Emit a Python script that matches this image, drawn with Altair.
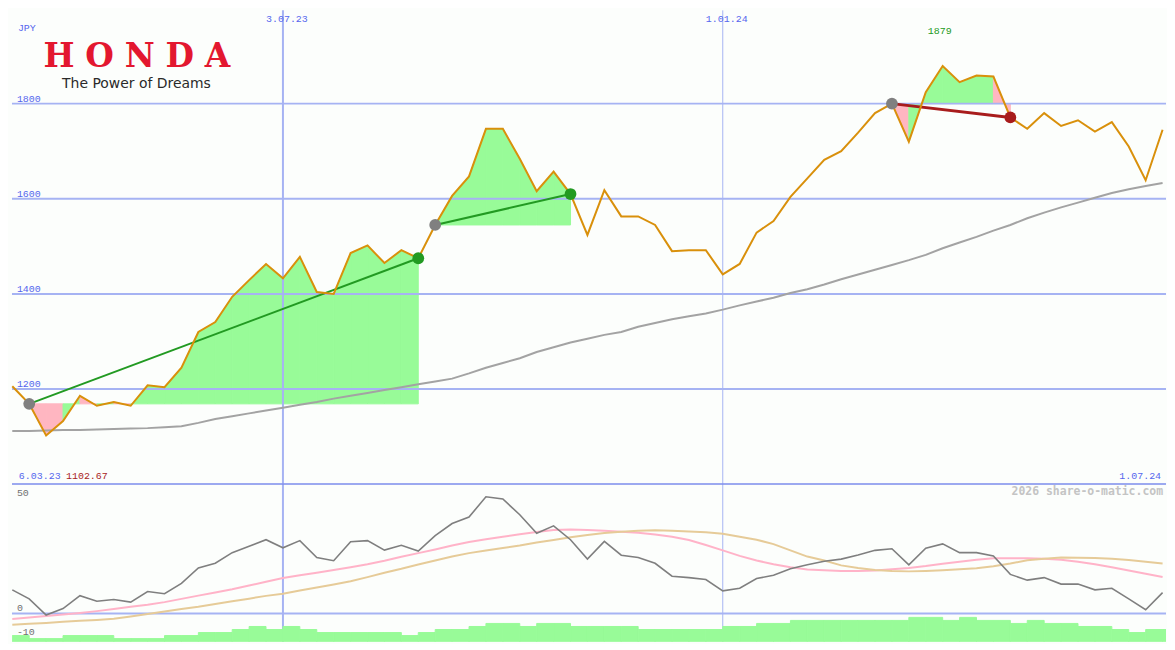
import altair as alt
import pandas as pd

# ---------------- data (weekly, weeks starting 13 Mar 2023) ----------------
dates = [d.strftime("%Y-%m-%d") for d in pd.date_range("2023-03-13", periods=69, freq="7D")]

price = [1206, 1169, 1102.67, 1133, 1186, 1165, 1173, 1165, 1208, 1204,
         1245, 1320, 1341, 1394, 1429, 1463, 1433, 1478, 1404, 1400,
         1486, 1502, 1465, 1492, 1475, 1545, 1606, 1647, 1747, 1747,
         1684, 1616, 1657, 1610, 1524, 1618, 1563, 1563, 1545, 1490,
         1492, 1492, 1441, 1463, 1529, 1553, 1604, 1643, 1682, 1700,
         1739, 1780, 1800, 1720, 1824, 1879, 1845, 1859, 1857, 1771,
         1747, 1780, 1753, 1765, 1741, 1761, 1710, 1639, 1745]

ma_slow = [1112, 1112, 1113, 1114, 1114, 1115, 1116, 1117, 1118, 1120,
           1122, 1129, 1137, 1143, 1149, 1155, 1161, 1167, 1173, 1180,
           1186, 1192, 1198, 1204, 1210, 1216, 1222, 1233, 1245, 1255,
           1265, 1278, 1288, 1298, 1306, 1314, 1320, 1331, 1339, 1347,
           1353, 1359, 1367, 1376, 1384, 1392, 1402, 1410, 1420, 1431,
           1441, 1451, 1461, 1471, 1482, 1496, 1508, 1520, 1533, 1545,
           1559, 1571, 1582, 1592, 1602, 1612, 1620, 1627, 1633]

momentum = [10.2, 6.3, -0.7, 2.1, 7.7, 5.3, 6.0, 4.9, 9.5, 8.5,
            13.0, 19.7, 21.7, 26.3, 29.1, 31.9, 28.4, 31.5, 24.2, 22.8,
            31.0, 31.5, 27.4, 29.5, 27.0, 33.7, 38.9, 41.7, 50.5, 49.5,
            42.7, 34.7, 37.9, 31.9, 23.5, 31.2, 25.2, 24.2, 21.7, 16.1,
            15.5, 14.7, 9.8, 10.9, 15.1, 16.5, 19.3, 21.1, 22.6, 23.5,
            25.3, 27.3, 28.0, 21.0, 28.2, 30.1, 26.3, 26.3, 24.9, 16.9,
            14.4, 15.5, 12.7, 12.7, 10.2, 10.9, 6.3, 1.6, 9.0]

momentum_fast = [-2.4, -1.8, -1.1, -0.5, 0.2, 1.0, 1.9, 2.9, 3.8, 4.9,
                 6.3, 7.7, 9.1, 10.5, 12.1, 13.7, 15.3, 16.5, 17.6, 18.8,
                 20.0, 21.3, 22.8, 24.5, 26.1, 27.7, 29.4, 30.9, 32.1, 33.2,
                 34.3, 35.2, 36.1, 36.3, 36.1, 35.8, 35.3, 34.9, 34.2, 33.2,
                 31.8, 29.6, 27.3, 24.9, 22.9, 21.3, 20.0, 19.0, 18.7, 18.4,
                 18.4, 18.6, 19.1, 19.7, 20.5, 21.5, 22.4, 23.2, 23.9, 23.9,
                 23.9, 23.7, 23.2, 22.4, 21.3, 20.0, 18.6, 17.2, 15.8]

momentum_slow = [-4.9, -4.5, -4.1, -3.6, -3.2, -2.8, -2.3, -1.3, -0.2, 0.8,
                 1.9, 2.9, 4.1, 5.3, 6.4, 7.6, 8.5, 9.9, 11.2, 12.5,
                 13.9, 15.7, 17.6, 19.3, 21.2, 22.9, 24.6, 26.1, 27.2, 28.3,
                 29.4, 30.7, 31.8, 33.0, 33.9, 34.8, 35.3, 35.8, 36.0, 35.8,
                 35.5, 35.1, 34.5, 33.2, 31.9, 30.0, 27.3, 24.6, 22.9, 20.8,
                 19.7, 18.8, 18.4, 18.2, 18.4, 18.7, 19.1, 19.6, 20.4, 21.6,
                 23.0, 23.7, 24.2, 24.1, 24.0, 23.7, 23.1, 22.4, 21.6]

volume = [20, 10, 10, 20, 20, 20, 10, 10, 10, 20,
          20, 30, 30, 40, 50, 40, 50, 40, 30, 30,
          30, 30, 30, 20, 30, 40, 40, 50, 60, 60,
          50, 60, 60, 50, 50, 50, 50, 40, 40, 40,
          40, 40, 50, 50, 60, 60, 70, 70, 70, 70,
          70, 70, 70, 80, 80, 70, 80, 70, 70, 60,
          70, 60, 60, 50, 50, 40, 30, 40, 40]

trade_entry = [1, 25, 52]   # week index of entry
trade_exit = [24, 33, 59]   # week index of exit

price_ticks = [1200, 1400, 1600, 1800]
osc_ticks = [50, 0, -10]
grid_dates = ["2023-07-03", "2024-01-01"]
grid_labels = ["3.07.23", "1.01.24"]

currency = "JPY"
first_label = "6.03.23"
last_label = "1.07.24"
low_label = "1102.67"
high_label = "1879"
watermark = "2026 share-o-matic.com"
brand = "HONDA"
slogan = "The Power of Dreams"

# ---------------- layout / style ----------------
W, H1, H2 = 1159, 475, 159
SX = W / 1175
S1 = H1 / 487
S2 = H2 / 163

BG = "#fcfefc"
GRID = "#a6b3f3"
DIVIDER = "#7d8ded"
BLUE_TXT = "#5566ee"
MONO = "Liberation Mono"
FILL_UP = "#98fb98"
FILL_DN = "#ffb6c1"
WIN = "#229a22"
LOSS = "#a81c1c"

x_scale = alt.Scale(type="utc", domain=[
    alt.DateTime(year=2023, month=3, date=12, hours=21, utc=True),
    alt.DateTime(year=2024, month=7, date=2, hours=10, utc=True)])
X = alt.X("date:T", scale=x_scale, axis=None)
y1 = alt.Scale(domain=[1002, 1996], nice=False, zero=False)
y2s = alt.Scale(domain=[-12.2, 56.3], nice=False, zero=False)
yv = alt.Scale(domain=[0, 522], nice=False, zero=True)

series = pd.DataFrame({
    "date": dates, "price": price, "ma": ma_slow,
    "mom": momentum, "fast": momentum_fast, "slow": momentum_slow,
    "vol": volume,
})
series["next"] = [d.strftime("%Y-%m-%d") for d in pd.to_datetime(series["date"]) + pd.Timedelta(days=7)]
series["zero"] = 0

# trade fills
rows = []
for k, (a, b) in enumerate(zip(trade_entry, trade_exit)):
    base = price[a]
    for j in range(a, b):
        col = FILL_UP if price[j + 1] >= base else FILL_DN
        for m in (j, j + 1):
            rows.append(dict(seg=f"{k}-{j}", date=dates[m], p=price[m], base=base, c=col))
fill_df = pd.DataFrame(rows)

tl_rows, dot_rows = [], []
for k, (a, b) in enumerate(zip(trade_entry, trade_exit)):
    col = WIN if price[b] >= price[a] else LOSS
    tl_rows += [dict(t=k, date=dates[a], p=price[a], c=col, w=(2 if col == WIN else 3)),
                dict(t=k, date=dates[b], p=price[b], c=col, w=(2 if col == WIN else 3))]
    dot_rows += [dict(date=dates[a], p=price[a], c="#808080"),
                 dict(date=dates[b], p=price[b], c=col)]
tl_df = pd.DataFrame(tl_rows)
dot_df = pd.DataFrame(dot_rows)

grid_df = pd.DataFrame({"date": grid_dates, "lab": grid_labels})
ptick_df = pd.DataFrame({"v": price_ticks, "lab": [str(v) for v in price_ticks]})
otick_df = pd.DataFrame({"v": osc_ticks, "lab": [str(v) for v in osc_ticks]})

i_max = price.index(max(price))

def txt(s):
    return alt.Chart(pd.DataFrame({"t": [s]}))

# ---------------- price panel ----------------
fills = alt.Chart(fill_df).mark_area(interpolate="linear", opacity=1, strokeWidth=1).encode(
    x=X, y=alt.Y("p:Q", scale=y1, axis=None, stack=None), y2="base:Q",
    color=alt.Color("c:N", scale=None), stroke=alt.Stroke("c:N", scale=None), detail="seg:N")

hgrid = alt.Chart(ptick_df).mark_rule(color=GRID, strokeWidth=2).encode(
    y=alt.Y("v:Q", scale=y1, axis=None))

vgrid = alt.Chart(grid_df).mark_rule(color=GRID).encode(
    x=X, strokeWidth=alt.condition("year(datum.date) == 2023", alt.value(2), alt.value(1)))

ma_line = alt.Chart(series).mark_line(color="#a3a3a3", strokeWidth=2).encode(
    x=X, y=alt.Y("ma:Q", scale=y1, axis=None))

trade_lines = alt.Chart(tl_df).mark_line().encode(
    x=X, y=alt.Y("p:Q", scale=y1, axis=None), detail="t:N",
    color=alt.Color("c:N", scale=None), strokeWidth=alt.StrokeWidth("w:Q", scale=None))

price_line = alt.Chart(series).mark_line(color="#d9900b", strokeWidth=2).encode(
    x=X, y=alt.Y("price:Q", scale=y1, axis=None))

dots = alt.Chart(dot_df).mark_circle(size=140, opacity=1).encode(
    x=X, y=alt.Y("p:Q", scale=y1, axis=None), color=alt.Color("c:N", scale=None))

ptick_labels = alt.Chart(ptick_df).mark_text(
    align="left", baseline="alphabetic", dy=-2, font=MONO, fontSize=10, color=BLUE_TXT).encode(
    x=alt.value(5 * SX), y=alt.Y("v:Q", scale=y1, axis=None), text="lab:N")

date_labels = alt.Chart(grid_df).mark_text(
    align="center", baseline="middle", dx=4, font=MONO, fontSize=10, color=BLUE_TXT).encode(
    x=X, y=alt.value(9 * S1), text="lab:N")

high_text = alt.Chart(pd.DataFrame({"date": [dates[i_max]], "t": [high_label]})).mark_text(
    align="center", baseline="middle", dx=-3, font=MONO, fontSize=10, color=WIN).encode(
    x=X, y=alt.value(21 * S1), text="t:N")

jpy = txt(currency).mark_text(align="left", baseline="middle", font=MONO, fontSize=10,
                              color=BLUE_TXT).encode(x=alt.value(6 * SX), y=alt.value(18 * S1), text="t:N")
first_t = txt(first_label).mark_text(align="left", baseline="middle", font=MONO, fontSize=10,
                                     color=BLUE_TXT).encode(x=alt.value(7 * SX), y=alt.value(479 * S1), text="t:N")
low_t = txt(low_label).mark_text(align="left", baseline="middle", font=MONO, fontSize=10,
                                 color=LOSS).encode(x=alt.value(55 * SX), y=alt.value(479 * S1), text="t:N")
last_t = txt(last_label).mark_text(align="right", baseline="middle", font=MONO, fontSize=10,
                                   color=BLUE_TXT).encode(x=alt.value(1170 * SX), y=alt.value(479 * S1), text="t:N")

# logo: letters spread slightly to match the wide Honda wordmark
logo_text = "\u2004".join(brand)
logo = txt(logo_text).mark_text(align="left", baseline="alphabetic", font="DejaVu Serif", fontWeight="bold",
                                fontSize=33, color="#e3172f").encode(
    x=alt.value(32 * SX), y=alt.value(58 * S1), text="t:N")
slogan_t = txt(slogan).mark_text(align="left", baseline="alphabetic", font="DejaVu Sans",
                                 fontSize=14, color="#2a2a2a").encode(
    x=alt.value(51 * SX), y=alt.value(80 * S1), text="t:N")

top = alt.layer(fills, hgrid, vgrid, ma_line, trade_lines, price_line, dots,
                ptick_labels, date_labels, high_text, jpy, first_t, low_t, last_t,
                logo, slogan_t).properties(width=W, height=H1)

# ---------------- indicator panel ----------------
vgrid2 = alt.Chart(grid_df).mark_rule(color=GRID).encode(
    x=X, strokeWidth=alt.condition("year(datum.date) == 2023", alt.value(2), alt.value(1)))
zero_rule = alt.Chart(pd.DataFrame({"v": [0]})).mark_rule(color=GRID, strokeWidth=2).encode(
    y=alt.Y("v:Q", scale=y2s, axis=None))
vol = alt.Chart(series).mark_rect(color=FILL_UP, stroke=FILL_UP, strokeWidth=1, clip=True).encode(
    x=X, x2="next:T", y=alt.Y("vol:Q", scale=yv, axis=None), y2="zero:Q")
fast_line = alt.Chart(series).mark_line(color="#ffb3c8", strokeWidth=2).encode(
    x=X, y=alt.Y("fast:Q", scale=y2s, axis=None))
slow_line = alt.Chart(series).mark_line(color="#e6cb98", strokeWidth=2).encode(
    x=X, y=alt.Y("slow:Q", scale=y2s, axis=None))
mom_line = alt.Chart(series).mark_line(color="#7f7f7f", strokeWidth=1.6).encode(
    x=X, y=alt.Y("mom:Q", scale=y2s, axis=None))
otick_labels = alt.Chart(otick_df).mark_text(
    align="left", baseline="alphabetic", dy=-2, font=MONO, fontSize=10, color="#707070").encode(
    x=alt.value(5 * SX), y=alt.Y("v:Q", scale=y2s, axis=None), text="lab:N")
wm = txt(watermark).mark_text(align="right", baseline="middle", font="DejaVu Sans Mono",
                              fontWeight="bold", fontSize=11.5, color="#c4c4c4").encode(
    x=alt.value(1172 * SX), y=alt.value(9 * S2), text="t:N")
divider = txt("").mark_rule(color=DIVIDER, strokeWidth=2, clip=True).encode(
    y=alt.value(0.5))

bottom = alt.layer(vgrid2, zero_rule, vol, fast_line, slow_line, mom_line,
                   otick_labels, wm, divider).resolve_scale(y="independent").properties(width=W, height=H2)

chart = alt.vconcat(top, bottom, spacing=0, bounds="flush").properties(
    padding=0, background=BG).configure_view(stroke=None)

chart.save("out.html", embed_options={"renderer": "svg", "actions": False})
